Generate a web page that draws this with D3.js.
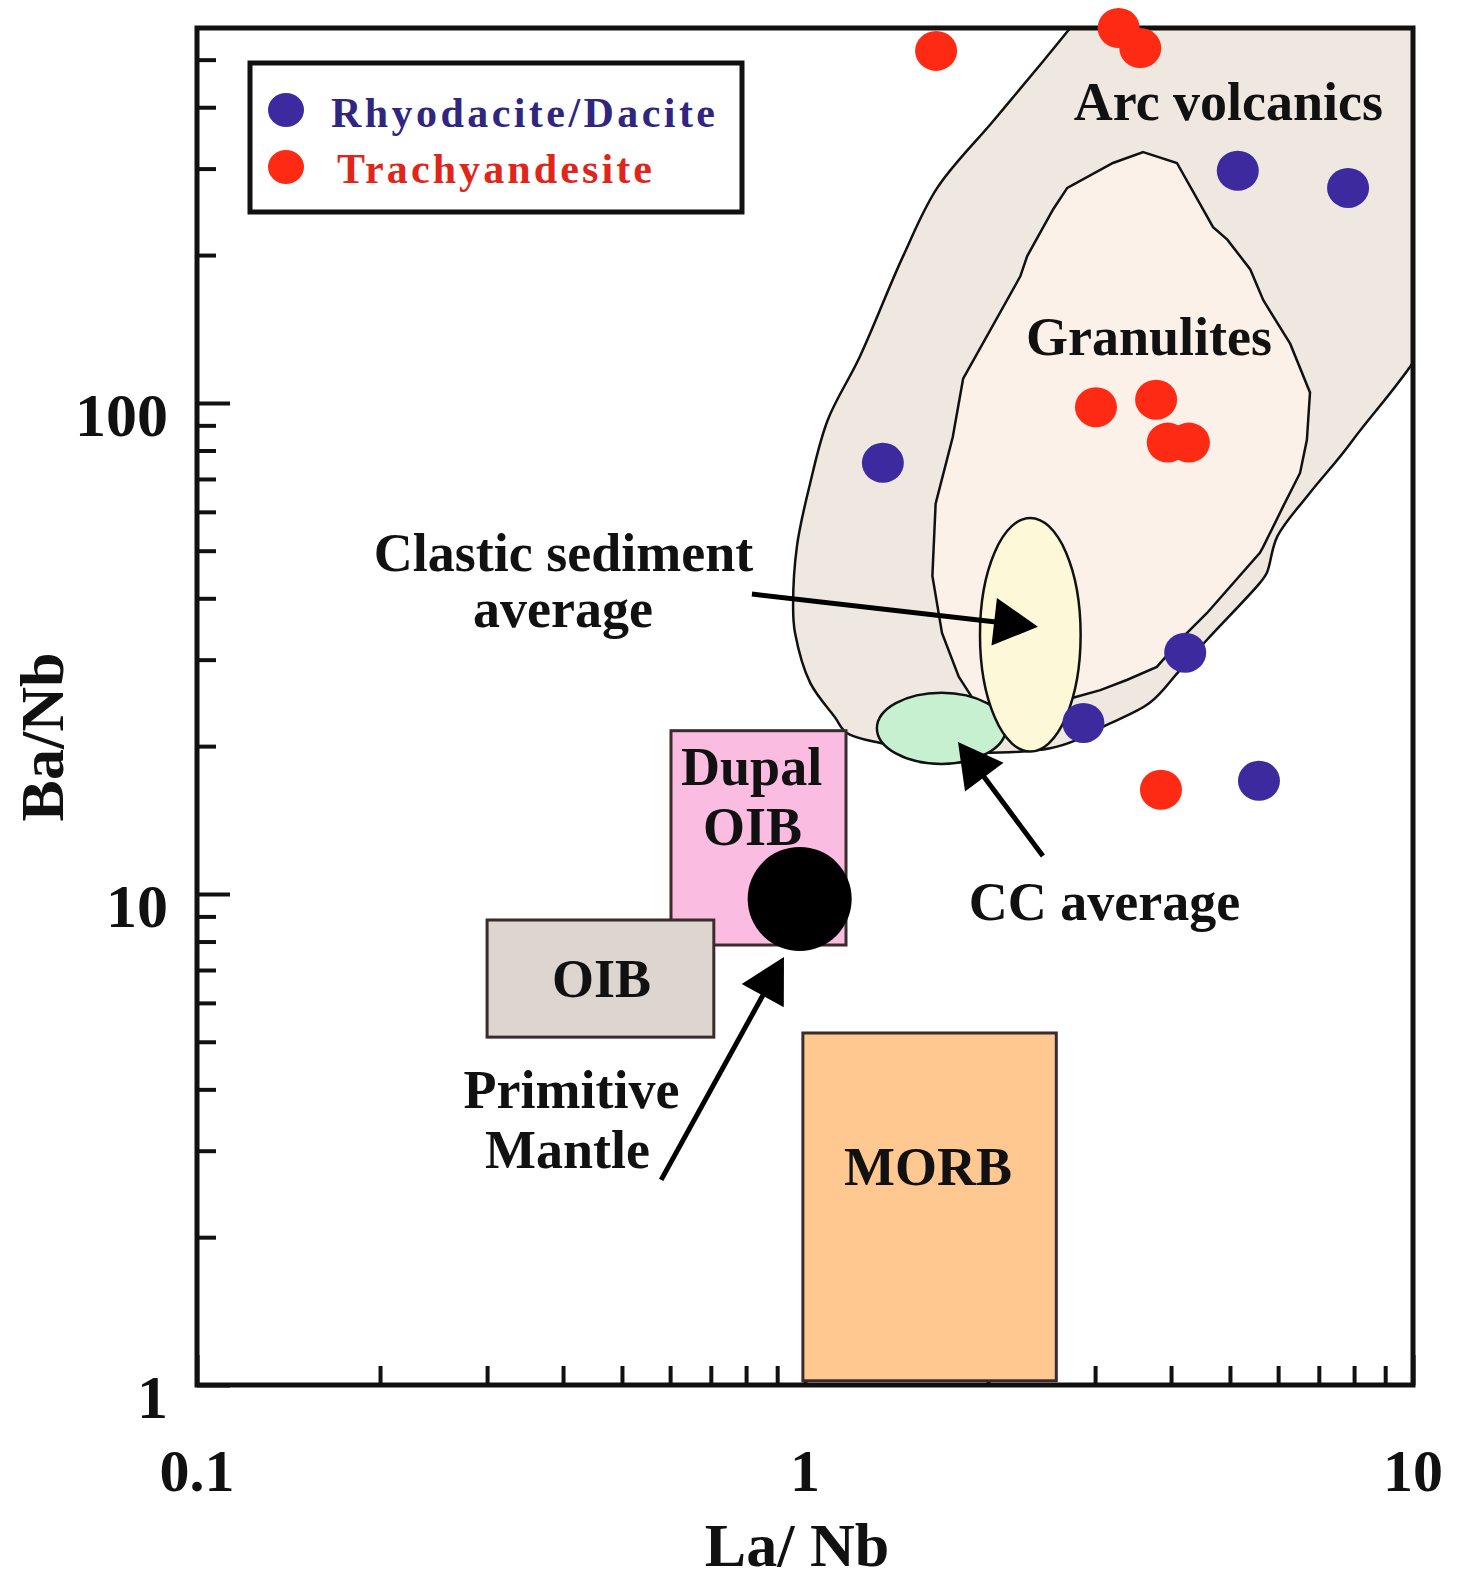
<!DOCTYPE html>
<html>
<head>
<meta charset="utf-8">
<script src="https://cdn.jsdelivr.net/npm/d3@7"></script>
<style>
  body { margin: 0; background: #fff; }
  svg { display: block; }
  text { font-family: "Liberation Serif", "Times New Roman", serif; font-weight: bold; }
</style>
</head>
<body>
<svg id="chart" width="1466" height="1586"></svg>
<script>
// tick labels
const xTickLabels = [0.1, 1, 10];
const yTickLabels = [1, 10, 100];

// samples [La/Nb, Ba/Nb]
const dacite = [[1.343, 75.5], [5.15, 297], [7.82, 274], [4.22, 31.0], [2.87, 22.3], [5.58, 17.0]];
const trachyandesite = [[1.643, 521], [3.28, 580], [3.56, 528], [3.01, 98], [3.78, 101.5],
  [3.95, 83], [4.28, 83], [3.85, 16.3]];

// reference fields [La/Nb, Ba/Nb]; arc field runs past the plot edges and is clipped
const arcVolcanics = [[3.06, 693], [12, 800], [11.5, 169], [7.97, 84.1], [6.77, 65.6], [5.98, 53.4],
  [5.75, 45.1], [5.60, 43.0], [4.58, 32.9], [4.14, 28.6], [3.69, 24.5], [3.09, 21.9], [2.80, 20.6],
  [2.53, 19.8], [2.09, 19.4], [1.67, 19.5], [1.33, 20.3], [1.17, 21.3], [1.12, 22.9], [1.02, 26.9],
  [0.963, 34.0], [0.956, 38.1], [0.970, 51.1], [1.02, 68.7], [1.09, 92.3], [1.23, 124], [1.45, 199],
  [1.65, 274], [2.04, 375], [2.46, 495], [2.73, 580]];
const granulites = [[3.60, 324], [4.09, 308], [4.69, 228], [4.95, 215], [5.40, 187], [5.67, 162],
  [6.28, 132], [6.77, 105], [6.69, 84], [6.52, 72], [6.11, 61.4], [5.67, 50.9], [5.60, 49.5],
  [4.58, 37.3], [4.25, 34.0], [3.79, 29.0], [3.39, 27.3], [3.06, 26.0], [2.76, 25.1], [2.35, 23.1],
  [2.02, 22.8], [1.88, 25.2], [1.79, 27.7], [1.68, 34.0], [1.62, 44.4], [1.64, 62.3], [1.75, 85.2],
  [1.82, 112], [2.26, 181], [2.32, 199], [2.56, 248], [2.70, 274], [3.21, 308]];
const ccAverage = [[1.313, 18.4], [2.14, 25.7]];
const clasticSediment = [[1.94, 19.5], [2.84, 58.3]];
const dupalOib = [[0.602, 7.87], [1.168, 21.5]];
const oib = [[0.300, 5.11], [0.708, 8.85]];
const morb = [[0.992, 1.02], [2.59, 5.21]];
const primitiveMantle = [0.98, 9.77];

// annotations
const labels = [
  ["Arc volcanics", 4.97, 377], ["Granulites", 3.68, 125.3],
  ["Clastic sediment", 0.4007, 45.5], ["average", 0.40, 35.0],
  ["Dupal", 0.817, 16.67], ["OIB", 0.820, 12.58], ["OIB", 0.4627, 6.17],
  ["Primitive", 0.413, 3.666], ["Mantle", 0.4068, 2.767],
  ["MORB", 1.593, 2.555], ["CC average", 3.109, 8.85]
];
const arrows = [
  [[0.818, 40.8], [2.416, 35.0]],
  [[2.462, 11.95], [1.785, 20.4]],
  [[0.580, 2.616], [0.9235, 7.44]]
];

const svg = d3.select("#chart");
const x = d3.scaleLog().domain([0.1, 10]).range([197, 1413]);
const y = d3.scaleLog().domain([1, 580]).range([1385, 28]);
const isMajor = v => Math.abs(Math.log10(v) - Math.round(Math.log10(v))) < 1e-9;

svg.append("defs").append("clipPath").attr("id", "plot")
  .append("rect").attr("x", 197).attr("y", 28).attr("width", 1216).attr("height", 1357);

// ticks
const yMinor = y.ticks().filter(v => !isMajor(v));
const xMinor = x.ticks().filter(v => !isMajor(v));
const axisG = svg.append("g");
axisG.append("g").attr("transform", "translate(197,0)")
  .call(d3.axisLeft(y).tickValues(yMinor).tickSize(-19).tickFormat(""));
axisG.append("g").attr("transform", "translate(197,0)")
  .call(d3.axisLeft(y).tickValues(yTickLabels).tickSize(-33).tickFormat(""));
axisG.append("g").attr("transform", "translate(0,1385)")
  .call(d3.axisBottom(x).tickValues(xMinor).tickSize(-19).tickFormat(""));
axisG.append("g").attr("transform", "translate(0,1385)")
  .call(d3.axisBottom(x).tickValues(xTickLabels).tickSize(-30).tickFormat(""));
axisG.selectAll(".domain").remove();
axisG.selectAll(".tick line").attr("stroke", "#111").attr("stroke-width", 4);

// fields
const smooth = d3.line().x(d => x(d[0])).y(d => y(d[1])).curve(d3.curveCatmullRomClosed.alpha(0.5));
const line = d3.line().x(d => x(d[0])).y(d => y(d[1]));
svg.append("path").attr("d", smooth(arcVolcanics)).attr("clip-path", "url(#plot)")
  .attr("fill", "#efe8e1").attr("stroke", "#111").attr("stroke-width", 2.5);
svg.append("path").attr("d", line(granulites) + "Z")
  .attr("fill", "#fbf1e8").attr("stroke", "#111").attr("stroke-width", 2.5);

function ellipse(b, fill) {
  const x0 = x(b[0][0]), x1 = x(b[1][0]), y0 = y(b[0][1]), y1 = y(b[1][1]);
  svg.append("ellipse").attr("cx", (x0 + x1) / 2).attr("cy", (y0 + y1) / 2)
    .attr("rx", Math.abs(x1 - x0) / 2).attr("ry", Math.abs(y1 - y0) / 2)
    .attr("fill", fill).attr("stroke", "#111").attr("stroke-width", 2.5);
}
ellipse(ccAverage, "#c6f0d0");
ellipse(clasticSediment, "#fdf8d8");

function box(b, fill) {
  svg.append("rect").attr("x", x(b[0][0])).attr("y", y(b[1][1]))
    .attr("width", x(b[1][0]) - x(b[0][0])).attr("height", y(b[0][1]) - y(b[1][1]))
    .attr("fill", fill).attr("stroke", "#3a2c2c").attr("stroke-width", 3);
}
box(dupalOib, "#fbbce2");
box(oib, "#ddd6d0");
box(morb, "#ffc891");

svg.append("circle").attr("cx", x(primitiveMantle[0])).attr("cy", y(primitiveMantle[1]))
  .attr("r", 52).attr("fill", "#000");

// arrows
arrows.forEach(([a, b]) => {
  const x0 = x(a[0]), y0 = y(a[1]), x1 = x(b[0]), y1 = y(b[1]);
  const len = Math.hypot(x1 - x0, y1 - y0), ux = (x1 - x0) / len, uy = (y1 - y0) / len;
  const hl = 44, hw = 24;
  const bx = x1 - ux * hl, by = y1 - uy * hl;
  svg.append("line").attr("x1", x0).attr("y1", y0).attr("x2", bx + ux * 4).attr("y2", by + uy * 4)
    .attr("stroke", "#000").attr("stroke-width", 5);
  svg.append("path")
    .attr("d", `M${x1},${y1}L${bx - uy * hw},${by + ux * hw}L${bx + uy * hw},${by - ux * hw}Z`)
    .attr("fill", "#000");
});

// labels
svg.append("g").selectAll("text").data(labels).join("text")
  .attr("x", d => x(d[1])).attr("y", d => y(d[2]))
  .attr("text-anchor", "middle").attr("font-size", 54).attr("fill", "#111")
  .text(d => d[0]);

// frame
svg.append("rect").attr("x", 197).attr("y", 28).attr("width", 1216).attr("height", 1357)
  .attr("fill", "none").attr("stroke", "#111").attr("stroke-width", 5);

// tick labels
svg.append("g").selectAll("text").data(xTickLabels).join("text")
  .attr("x", d => x(d)).attr("y", 1491).attr("text-anchor", "middle")
  .attr("font-size", 60).attr("fill", "#111").text(d => d);
svg.append("g").selectAll("text").data(yTickLabels).join("text")
  .attr("x", 168).attr("y", d => y(d) + 33).attr("text-anchor", "end")
  .attr("font-size", 62).attr("fill", "#111").text(d => d);

// axis titles
svg.append("text").attr("x", 797).attr("y", 1566).attr("text-anchor", "middle")
  .attr("font-size", 62).attr("fill", "#111").text("La/ Nb");
svg.append("text").attr("transform", "translate(63,737) rotate(-90)").attr("text-anchor", "middle")
  .attr("font-size", 62).attr("fill", "#111").text("Ba/Nb");

// samples
const series = [
  { name: "Rhyodacite/Dacite", data: dacite, color: "#3c2a9e", text: "#30257f", width: 384 },
  { name: "Trachyandesite", data: trachyandesite, color: "#ff2a14", text: "#e0251a", width: 315 }
];
series.forEach(s => {
  svg.append("g").selectAll("ellipse").data(s.data).join("ellipse")
    .attr("cx", d => x(d[0])).attr("cy", d => y(d[1]))
    .attr("rx", 21).attr("ry", 20).attr("fill", s.color);
});

// legend
const legend = svg.append("g");
legend.append("rect").attr("x", 250).attr("y", 63).attr("width", 492).attr("height", 149)
  .attr("fill", "#fff").attr("stroke", "#111").attr("stroke-width", 5);
series.forEach((s, i) => {
  legend.append("ellipse").attr("cx", 286).attr("cy", 110 + i * 57)
    .attr("rx", 18).attr("ry", 17).attr("fill", s.color);
  legend.append("text").attr("x", i ? 337 : 331).attr("y", 127 + i * 56)
    .attr("font-size", 42).attr("fill", s.text)
    .attr("textLength", s.width).attr("lengthAdjust", "spacing").text(s.name);
});
</script>
</body>
</html>
